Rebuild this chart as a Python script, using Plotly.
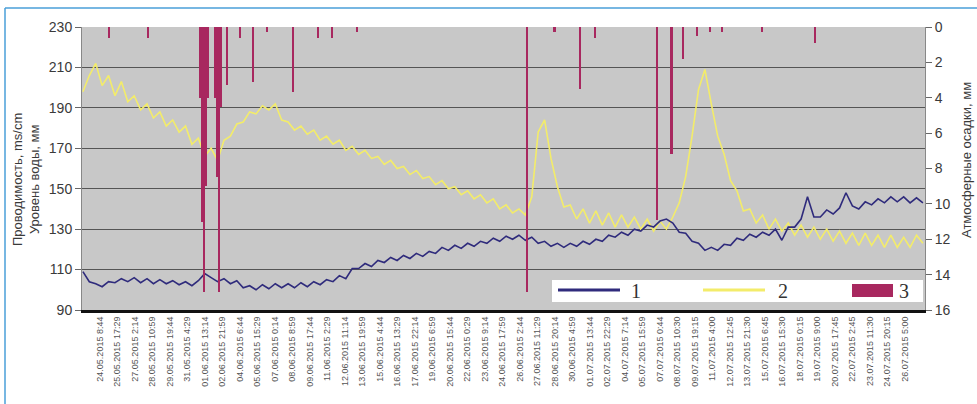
import numpy as np
import plotly.graph_objects as go

tick_labels = [
    "24.05.2015 8:44", "25.05.2015 17:29", "27.05.2015 2:14", "28.05.2015 10:59",
    "29.05.2015 19:44", "31.05.2015 4:29", "01.06.2015 13:14", "02.06.2015 21:59",
    "04.06.2015 6:44", "05.06.2015 15:29", "07.06.2015 0:14", "08.06.2015 8:59",
    "09.06.2015 17:44", "11.06.2015 2:29", "12.06.2015 11:14", "13.06.2015 19:59",
    "15.06.2015 4:44", "16.06.2015 13:29", "17.06.2015 22:14", "19.06.2015 6:59",
    "20.06.2015 15:44", "22.06.2015 0:29", "23.06.2015 9:14", "24.06.2015 17:59",
    "26.06.2015 2:44", "27.06.2015 11:29", "28.06.2015 20:14", "30.06.2015 4:59",
    "01.07.2015 13:44", "02.07.2015 22:29", "04.07.2015 7:14", "05.07.2015 15:59",
    "07.07.2015 0:44", "08.07.2015 10:30", "09.07.2015 19:15", "11.07.2015 4:00",
    "12.07.2015 12:45", "13.07.2015 21:30", "15.07.2015 6:45", "16.07.2015 15:30",
    "18.07.2015 0:15", "19.07.2015 9:00", "20.07.2015 17:45", "22.07.2015 2:45",
    "23.07.2015 11:30", "24.07.2015 20:15", "26.07.2015 5:00",
]
label_step_h = 32.75      # hours between tick labels
t_start_h = -32.0         # first sample, hours from first label
sample_step_h = 12.0      # hours between samples

# 1 - conductivity, ms/cm
conductivity = [
    109, 104, 103, 101.5, 104, 103.5, 105.5, 104, 106, 103.5,
    105.5, 103, 105, 103, 104.5, 102.5, 104, 102, 104.5, 108,
    106, 104, 105.5, 103, 104.5, 101, 102, 100, 102.5, 100.5,
    103, 101, 103, 101, 103.5, 101.5, 104, 102.5, 105, 104,
    107, 105.5, 110.5, 110.5, 113, 111.5, 114.5, 113.5, 116, 114.5,
    117, 115.5, 118, 116.5, 119, 118, 121, 119.5, 122, 120.5,
    123, 121.5, 124, 123, 125.5, 124, 126.5, 125, 127, 124.5,
    126, 123, 124, 121.5, 123, 121, 123, 121.5, 124, 122.5,
    125, 124, 127, 126, 128.5, 127, 130, 129, 132, 131,
    134, 135, 133, 128.5, 128, 124, 123, 119.5, 121, 119.5,
    122.5, 122, 125.5, 124.5, 127.5, 126, 128.5, 127, 130, 124.5,
    131, 131, 135, 146, 136, 136, 139.5, 137.5, 140.5, 148,
    141.5, 140, 143.5, 142, 145, 143, 146, 143.5, 146, 143,
    145.5, 143,
]

# 2 - water level, mm
water_level = [
    198, 206, 212, 201, 206, 196, 203, 193, 196, 189,
    192, 185, 188, 181, 184, 178, 181, 172, 175, 166,
    170, 164, 174, 176, 182, 183, 188, 187, 191, 189,
    192, 184, 183, 179, 181, 177, 179, 174, 176, 172,
    174, 169, 171, 167, 169, 165, 166, 162, 164, 160,
    161, 157, 159, 155, 156, 152, 154, 150, 151, 147,
    149, 145, 147, 143, 145, 140, 142, 138, 140, 137,
    146, 178, 184, 165, 151, 141, 142, 135, 140, 133,
    139, 132, 138, 131, 137, 131, 136, 130, 135, 129,
    134, 130, 136, 143, 156, 176, 199, 209, 192, 176,
    167, 154, 149, 139, 140, 133, 137, 130, 135, 129,
    133, 127, 132, 126, 131, 125, 130, 124, 129, 123,
    128, 122, 128, 122, 127, 121, 127, 121, 126, 121,
    127, 123,
]

# 3 - precipitation, mm
rain_t_h = [17, 90, 187, 191, 195, 199, 202, 215, 219, 223, 226, 238, 262, 286,
            313, 361, 408, 434, 481, 799, 851, 898, 926, 1042, 1070, 1091, 1117,
            1142, 1164, 1239, 1338]
rain_mm = [0.6, 0.6, 4.0, 11.0, 15.0, 9.0, 4.0, 4.0, 8.5, 15.0, 4.5, 3.3, 0.6, 3.1,
           0.3, 3.7, 0.6, 0.6, 0.3, 15.0, 0.3, 3.5, 0.6, 10.9, 7.2, 1.8, 0.5,
           0.3, 0.3, 0.3, 0.9]

BLUE = "#2f2b7c"
YELLOW = "#f3ec6a"
MAROON = "#a8285f"

t = t_start_h + sample_step_h * np.arange(len(conductivity))
tickvals = [i * label_step_h for i in range(len(tick_labels))]

fig = go.Figure()
fig.add_trace(go.Scatter(x=t, y=water_level, mode="lines", name="2",
                         line=dict(color=YELLOW, width=1.6), showlegend=False))
fig.add_trace(go.Scatter(x=t, y=conductivity, mode="lines", name="1",
                         line=dict(color=BLUE, width=1.6), showlegend=False))
fig.add_trace(go.Bar(x=rain_t_h, y=rain_mm, width=3.0, name="3", yaxis="y2",
                     marker=dict(color=MAROON, line=dict(width=0)), showlegend=False))

tickfont = dict(family="Liberation Sans", size=14, color="#3a3a3a")
titlefont = dict(family="Liberation Sans", size=13, color="#3a3a3a")
fig.update_layout(
    width=977, height=404,
    margin=dict(l=82, r=52, t=27, b=94),
    paper_bgcolor="white", plot_bgcolor="#c8c8c8",
    bargap=0,
    xaxis=dict(range=[-33.7, 1543.9], tickmode="array", tickvals=tickvals,
               ticktext=tick_labels, tickangle=-90, showgrid=False, zeroline=False,
               tickfont=dict(family="Liberation Sans", size=9, color="#555"),
               showline=True, linecolor="#111", linewidth=3, ticks=""),
    yaxis=dict(range=[90, 230], tick0=90, dtick=20, tickfont=tickfont, showgrid=True,
               gridcolor="#555555", gridwidth=1.3, zeroline=False, ticks="outside",
               ticklen=6, tickcolor="#666", showline=True, linecolor="#888",
               linewidth=1),
    yaxis2=dict(range=[16, 0], tick0=0, dtick=2, overlaying="y", side="right",
                showgrid=False, zeroline=False, tickfont=tickfont, ticks="outside",
                ticklen=6, tickcolor="#666", showline=True, linecolor="#888",
                linewidth=1),
    showlegend=False,
)

def px_x(p):
    return (p - 82) / 843.0

def px_y(p):
    return (310 - p) / 283.0

shapes = [
    # outer frame lines
    dict(type="line", xref="paper", yref="paper", x0=px_x(5), x1=px_x(980),
         y0=px_y(8), y1=px_y(8), line=dict(color="#4a9fd8", width=1.5)),
    dict(type="line", xref="paper", yref="paper", x0=px_x(5), x1=px_x(5),
         y0=px_y(8), y1=px_y(410), line=dict(color="#4a9fd8", width=1.5)),
    # legend box
    dict(type="rect", xref="paper", yref="paper", x0=px_x(552), x1=px_x(923),
         y0=px_y(302), y1=px_y(280), fillcolor="white", line=dict(width=0)),
    dict(type="line", xref="paper", yref="paper", x0=px_x(558), x1=px_x(620),
         y0=px_y(290), y1=px_y(290), line=dict(color=BLUE, width=3)),
    dict(type="line", xref="paper", yref="paper", x0=px_x(703), x1=px_x(765),
         y0=px_y(290), y1=px_y(290), line=dict(color=YELLOW, width=3)),
    dict(type="rect", xref="paper", yref="paper", x0=px_x(852), x1=px_x(893),
         y0=px_y(297), y1=px_y(284), fillcolor=MAROON, line=dict(width=0)),
]
fig.update_layout(shapes=shapes)

legend_font = dict(family="Liberation Serif", size=20, color="#333")
common = dict(xref="paper", yref="paper", showarrow=False,
              xanchor="center", yanchor="middle")
annotations = [
    dict(text="1", x=px_x(636), y=px_y(291), font=legend_font, **common),
    dict(text="2", x=px_x(783), y=px_y(291), font=legend_font, **common),
    dict(text="3", x=px_x(904), y=px_y(291), font=legend_font, **common),
    dict(text="Проводимость, ms/cm<br>Уровень воды, мм", x=px_x(26), y=px_y(180),
         textangle=-90, font=titlefont, **common),
    dict(text="Атмосферные осадки, мм", x=px_x(966), y=px_y(160),
         textangle=-90, font=titlefont, **common),
]
fig.update_layout(annotations=annotations)

fig.write_html(
    "out.html",
    config={"displayModeBar": False},
    post_script="document.body.style.margin='0';document.body.style.overflow='hidden';",
)
